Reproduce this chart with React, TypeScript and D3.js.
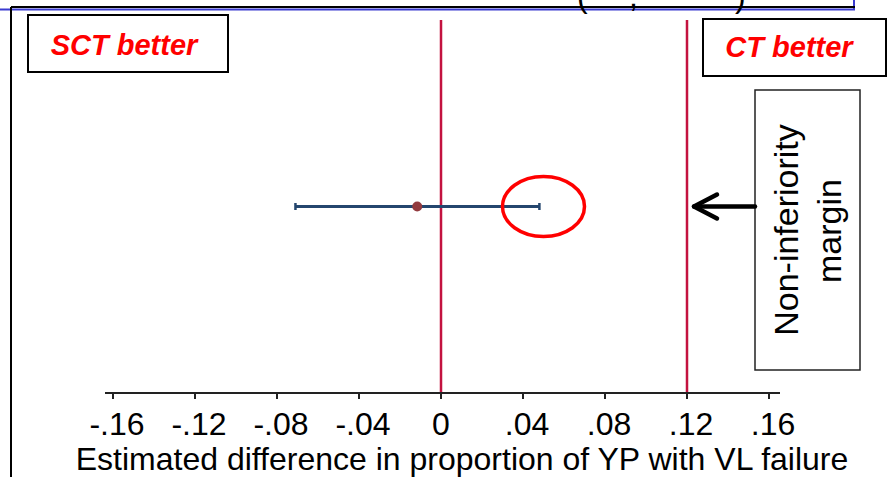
import React from "react";
import * as d3 from "d3";

// values
const tickValues = [-0.16, -0.12, -0.08, -0.04, 0, 0.04, 0.08, 0.12, 0.16];
const tickLabels = ["-.16", "-.12", "-.08", "-.04", "0", ".04", ".08", ".12", ".16"];
const rows = ["YP"];
const estimates = [-0.0116];
const lowerCI = [-0.071];
const upperCI = [0.048];
const refLines = [0, 0.12]; // no difference, non-inferiority margin
const highlight = [0.05]; // circled upper bound

const W = 888;
const H = 477;
const FONT = "'Liberation Sans', Arial, Helvetica, sans-serif";

const App = () => {
    const x = d3.scaleLinear().domain([-0.16, 0.16]).range([113, 769]);
    const y = d3.scalePoint<string>().domain(rows).range([20, 393]).padding(0.5);
    const axisY = 393;
    const plotTop = 20;
    const margin = refLines[1];
    const yRow = y(rows[0])!;

    return (
        <svg width={W} height={H} style={{ position: "absolute", left: 0, top: 0, background: "white" }}>
            {/* frame pieces from the slide */}
            <line x1={0} x2={855} y1={9.5} y2={9.5} stroke="#3a3ad0" strokeWidth={2} />
            <line x1={854} x2={854} y1={0} y2={10} stroke="#3a3ad0" strokeWidth={2} />
            <line x1={11} x2={855} y1={7} y2={7} stroke="#000" strokeWidth={2} />
            <line x1={11} x2={11} y1={7} y2={H} stroke="#000" strokeWidth={2} />
            {/* bottom of a title line that is cut off in the original */}
            <g fontFamily={FONT} fontSize={32} fill="#000">
                <text x={577} y={7}>(</text>
                <text x={629} y={7}>,</text>
                <text x={735} y={7}>)</text>
            </g>

            {/* reference lines */}
            {refLines.map((v) => (
                <line key={v} x1={x(v)} x2={x(v)} y1={plotTop} y2={axisY} stroke="#c3123f" strokeWidth={2.5} />
            ))}

            {/* axis */}
            <line x1={105} x2={780} y1={axisY} y2={axisY} stroke="#222" strokeWidth={2} />
            {tickValues.map((t, i) => (
                <g key={t}>
                    <line x1={x(t)} x2={x(t)} y1={axisY} y2={axisY + 6} stroke="#222" strokeWidth={2} />
                    <text x={x(t) + (t === 0 ? 0 : 4)} y={435} textAnchor="middle" fontFamily={FONT} fontSize={32}>
                        {tickLabels[i]}
                    </text>
                </g>
            ))}
            <text x={462} y={470} textAnchor="middle" fontFamily={FONT} fontSize={32}>
                Estimated difference in proportion of YP with VL failure
            </text>

            {/* estimate with CI */}
            {rows.map((r, i) => (
                <g key={r}>
                    <line x1={x(lowerCI[i])} x2={x(upperCI[i])} y1={y(r)} y2={y(r)} stroke="#24466e" strokeWidth={3} />
                    <line x1={x(lowerCI[i])} x2={x(lowerCI[i])} y1={y(r)! - 3.5} y2={y(r)! + 3.5} stroke="#24466e" strokeWidth={2.5} />
                    <line x1={x(upperCI[i])} x2={x(upperCI[i])} y1={y(r)! - 3.5} y2={y(r)! + 3.5} stroke="#24466e" strokeWidth={2.5} />
                    <circle cx={x(estimates[i])} cy={y(r)} r={5} fill="#923a3e" />
                    <ellipse cx={x(highlight[i])} cy={y(r)} rx={41} ry={30} fill="none" stroke="#ff0000" strokeWidth={3.5} />
                </g>
            ))}

            {/* annotation boxes */}
            <rect x={28} y={15} width={200} height={57} fill="white" stroke="#000" strokeWidth={2} />
            <text x={124} y={55} textAnchor="middle" fontFamily={FONT} fontSize={29} fontWeight="bold" fontStyle="italic" fill="#ff0000">
                SCT better
            </text>
            <rect x={703} y={19} width={183} height={57} fill="white" stroke="#000" strokeWidth={2} />
            <text x={789} y={57} textAnchor="middle" fontFamily={FONT} fontSize={29} fontWeight="bold" fontStyle="italic" fill="#ff0000">
                CT better
            </text>

            <rect x={755} y={90} width={105} height={280} fill="white" stroke="#222" strokeWidth={1.5} />
            <g fontFamily={FONT} fontSize={34} textAnchor="middle">
                <text transform="translate(798,230) rotate(-90)">Non-inferiority</text>
                <text transform="translate(841,231) rotate(-90)">margin</text>
            </g>
            <g stroke="#000" strokeWidth={4.5} fill="none" strokeLinecap="round" strokeLinejoin="round">
                <line x1={755} x2={x(margin) + 7} y1={yRow} y2={yRow} />
                <polyline points={`${x(margin) + 30},${yRow - 12} ${x(margin) + 7},${yRow} ${x(margin) + 30},${yRow + 12}`} />
            </g>
        </svg>
    );
};

export default App;
